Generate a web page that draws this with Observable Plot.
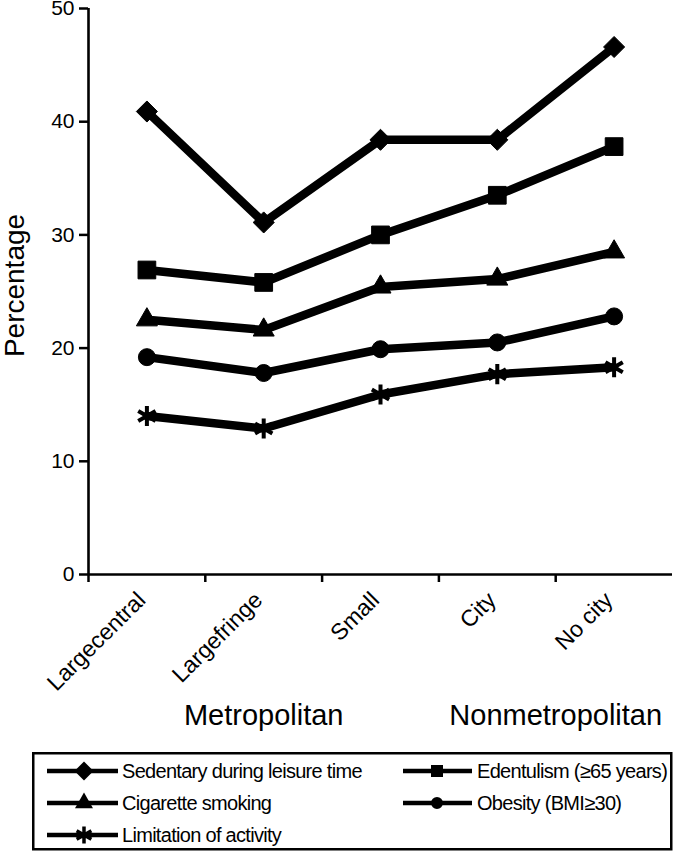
<!DOCTYPE html>
<html>
<head>
<meta charset="utf-8">
<script src="https://cdn.jsdelivr.net/npm/d3@7"></script>
<script src="https://cdn.jsdelivr.net/npm/@observablehq/plot@0.6"></script>
<style>
  html, body { margin: 0; padding: 0; background: #fff; }
  body { width: 676px; height: 853px; position: relative; overflow: hidden; font-family: "Liberation Sans", Arial, sans-serif; }
  #chart { position: absolute; left: 0; top: 0; }
  #legend { position: absolute; left: 0; top: 740px; }
</style>
</head>
<body>
<div id="chart"></div>
<svg id="legend" width="676" height="113"></svg>
<script>
// ---- data ----
const categories = ["Largecentral", "Largefringe", "Small", "City", "No city"];
const categoryGroup = ["Metropolitan", "Metropolitan", "Metropolitan", "Nonmetropolitan", "Nonmetropolitan"];
const seriesNames = ["Sedentary during leisure time", "Edentulism (\u226565 years)", "Cigarette smoking", "Obesity (BMI\u226530)", "Limitation of activity"];
const sedentary  = [40.9, 31.1, 38.4, 38.4, 46.6];
const edentulism = [26.9, 25.8, 30.0, 33.5, 37.8];
const smoking    = [22.5, 21.6, 25.4, 26.1, 28.5];
const obesity    = [19.2, 17.8, 19.9, 20.5, 22.8];
const limitation = [14.0, 12.9, 15.9, 17.7, 18.3];
const yTicks = [0, 10, 20, 30, 40, 50];
const yLabel = "Percentage";

// ---- build table ----
const seriesValues = [sedentary, edentulism, smoking, obesity, limitation];
const symbols = ["diamond2", "square", "triangle", "circle", "asterisk"];
const radii = [9.5, 10, 7.8, 8.5, 9.5];
const rows = [];
seriesValues.forEach((vals, s) => vals.forEach((v, i) => rows.push({series: seriesNames[s], s, i, value: v})));
const groups = Array.from(new Set(categoryGroup)).map(g => {
  const idx = categoryGroup.map((c, i) => c === g ? i : -1).filter(i => i >= 0);
  return {name: g, center: d3.mean(idx) + 0.5};
});
const catTable = categories.map((c, i) => ({name: c, i}));

const font = "'Liberation Sans', Arial, sans-serif";

const marks = [
  Plot.axisY({ticks: yTicks, tickSize: 9, tickPadding: 5, fontSize: 21, label: null, strokeWidth: 2.5, color: "black"}),
  Plot.axisX({ticks: d3.range(categories.length), tickSize: 8, tickFormat: () => "", label: null, strokeWidth: 2.5}),
  Plot.ruleX([0], {y1: 0, y2: 50, strokeWidth: 2.6}),
  Plot.ruleY([0], {strokeWidth: 2.6}),
  Plot.text(catTable, {x: d => d.i + 0.5, text: "name", frameAnchor: "bottom", dy: 27, dx: 0, rotate: -45, textAnchor: "end", lineAnchor: "bottom", fontSize: 23, fill: "black"}),
  Plot.text(groups, {x: "center", text: "name", frameAnchor: "bottom", dy: 141, textAnchor: "middle", lineAnchor: "middle", fontSize: 29, fill: "black"}),
  Plot.text([yLabel], {frameAnchor: "left", dx: -73, dy: -6, rotate: -90, textAnchor: "middle", lineAnchor: "middle", fontSize: 28, fill: "black"}),
  Plot.line(rows, {x: d => d.i + 0.5, y: "value", z: "series", stroke: "black", strokeWidth: 8.5, strokeLinejoin: "round"})
];
seriesNames.forEach((name, s) => {
  const data = rows.filter(d => d.s === s);
  if (symbols[s] === "asterisk") {
    marks.push(Plot.dot(data, {x: d => d.i + 0.5, y: "value", symbol: "asterisk", r: radii[s], stroke: "black", strokeWidth: 4, fill: "none"}));
  } else {
    marks.push(Plot.dot(data, {x: d => d.i + 0.5, y: "value", symbol: symbols[s], r: radii[s], fill: "black", stroke: "black", strokeWidth: 1}));
  }
});

const chart = Plot.plot({
  width: 676,
  height: 748,
  marginLeft: 88,
  marginRight: 4,
  marginTop: 8,
  marginBottom: 174,
  style: {fontFamily: font, color: "black", background: "white", overflow: "visible"},
  x: {type: "linear", domain: [0, categories.length], axis: null},
  y: {domain: [0, 50], axis: null},
  marks
});
document.getElementById("chart").appendChild(chart);

// ---- legend ----
const leg = d3.select("#legend");
leg.append("rect").attr("x", 33.25).attr("y", 13.25).attr("width", 638).attr("height", 96)
  .attr("fill", "none").attr("stroke", "black").attr("stroke-width", 2.5);
const legSym = [d3.symbolDiamond2, d3.symbolSquare, d3.symbolTriangle, d3.symbolCircle, d3.symbolAsterisk];
const legSize = [230, 144, 140, 113, 205];
const colX = [{x1: 47, x2: 118, m: 84, t: 122}, {x1: 403, x2: 472, m: 437, t: 477}];
const rowY = [31, 63, 95];
seriesNames.forEach((name, s) => {
  const c = colX[s % 2], y = rowY[Math.floor(s / 2)];
  const g = leg.append("g");
  g.append("line").attr("x1", c.x1).attr("x2", c.x2).attr("y1", y).attr("y2", y).attr("stroke", "black").attr("stroke-width", 4.5);
  const p = g.append("path").attr("d", d3.symbol(legSym[s], legSize[s])()).attr("transform", `translate(${c.m},${y})`);
  if (s === 4) p.attr("fill", "none").attr("stroke", "black").attr("stroke-width", 3.5);
  else p.attr("fill", "black");
  g.append("text").attr("x", c.t).attr("y", y).attr("dy", "0.35em").attr("font-size", 20).attr("letter-spacing", "-0.7px")
    .attr("font-family", font).attr("fill", "black").text(name);
});
</script>
</body>
</html>
